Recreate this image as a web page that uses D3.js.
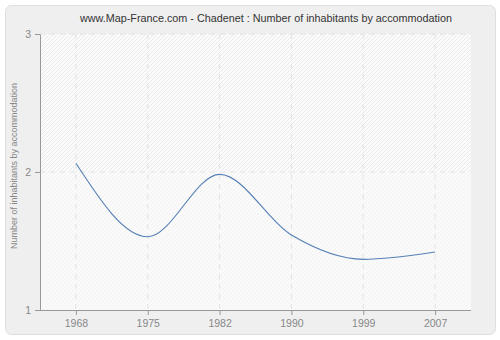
<!DOCTYPE html>
<html><head><meta charset="utf-8">
<script src="https://cdn.jsdelivr.net/npm/d3@7"></script>
<style>html,body{margin:0;padding:0;background:#fff;}svg{display:block;}</style>
</head><body>
<svg id="c" width="500" height="340"></svg>
<script>
const years = ["1968","1975","1982","1990","1999","2007"];
const values = [2.063, 1.531, 1.983, 1.543, 1.367, 1.42];
const yTicks = [1, 2, 3];
const title = "www.Map-France.com - Chadenet : Number of inhabitants by accommodation";
const yLabel = "Number of inhabitants by accommodation";

const svg = d3.select("#c");
const W = 500, H = 340;
const m = {left: 40, right: 29, top: 34, bottom: 30};
const pw = W - m.left - m.right, ph = H - m.top - m.bottom;
const font = "'Liberation Sans', Arial, sans-serif";

const defs = svg.append("defs");
const pat = defs.append("pattern").attr("id","hatch").attr("patternUnits","userSpaceOnUse")
  .attr("width",4).attr("height",4);
pat.append("rect").attr("width",4).attr("height",4).attr("fill","#fbfbfb");
pat.append("path").attr("d","M-1,1 l2,-2 M0,4 l4,-4 M3,5 l2,-2").attr("stroke","#e6e6e6").attr("stroke-width",0.8);
const pat2 = defs.append("pattern").attr("id","hatch2").attr("patternUnits","userSpaceOnUse")
  .attr("width",4).attr("height",4);
pat2.append("rect").attr("width",4).attr("height",4).attr("fill","#fafafa");
pat2.append("path").attr("d","M-1,1 l2,-2 M0,4 l4,-4 M3,5 l2,-2").attr("stroke","#f1f1f1").attr("stroke-width",0.8);

svg.append("rect").attr("x",5.5).attr("y",5.5).attr("width",490).attr("height",329)
  .attr("rx",6).attr("fill","#efefef").attr("stroke","#dedede");

const x = d3.scalePoint().domain(years).range([m.left, m.left+pw]).padding(0.5);
const y = d3.scaleLinear().domain([1,3]).range([m.top+ph, m.top]);

const g = svg.append("g");
g.append("rect").attr("x",m.left).attr("y",m.top).attr("width",pw).attr("height",y(2)-m.top).attr("fill","url(#hatch)");
g.append("rect").attr("x",m.left).attr("y",y(2)).attr("width",pw).attr("height",m.top+ph-y(2)).attr("fill","url(#hatch2)");

// grid
g.selectAll(".vg").data(years).enter().append("line")
  .attr("x1",d=>x(d)).attr("x2",d=>x(d)).attr("y1",m.top).attr("y2",m.top+ph)
  .attr("stroke","#e2e2e2").attr("stroke-dasharray","5,5");
g.selectAll(".hg").data(yTicks.filter(v=>v>1)).enter().append("line")
  .attr("x1",m.left).attr("x2",m.left+pw).attr("y1",d=>y(d)).attr("y2",d=>y(d))
  .attr("stroke","#e2e2e2").attr("stroke-dasharray","5,5");

// line
const line = d3.line().x((d,i)=>x(years[i])).y(d=>y(d)).curve(d3.curveMonotoneX);
g.append("path").datum(values).attr("d",line).attr("fill","none")
  .attr("stroke","#5580b5").attr("stroke-width",1.1);

// axes
const xa = svg.append("g").attr("transform",`translate(0,${m.top+ph})`)
  .call(d3.axisBottom(x).tickSize(5).tickPadding(5).tickSizeOuter(0));
const ya = svg.append("g").attr("transform",`translate(${m.left},0)`)
  .call(d3.axisLeft(y).tickValues(yTicks).tickFormat(d3.format("d")).tickSize(5).tickPadding(4).tickSizeOuter(0));
[xa,ya].forEach(a=>{
  a.select(".domain").attr("stroke","#999");
  a.selectAll(".tick line").attr("stroke","#999");
  a.selectAll(".tick text").attr("fill","#888").style("font-family",font).style("font-size","10.5px");
});
xa.select(".domain").attr("d",`M${m.left},0.5H${m.left+pw}`);

svg.append("text").attr("x",266).attr("y",22).attr("text-anchor","middle")
  .style("font-family",font).style("font-size","10.8px").attr("fill","#333").text(title);
svg.append("text").attr("transform",`translate(17,${166}) rotate(-90)`).attr("text-anchor","middle")
  .style("font-family",font).style("font-size","9px").attr("fill","#888").text(yLabel);
</script>
</body></html>
